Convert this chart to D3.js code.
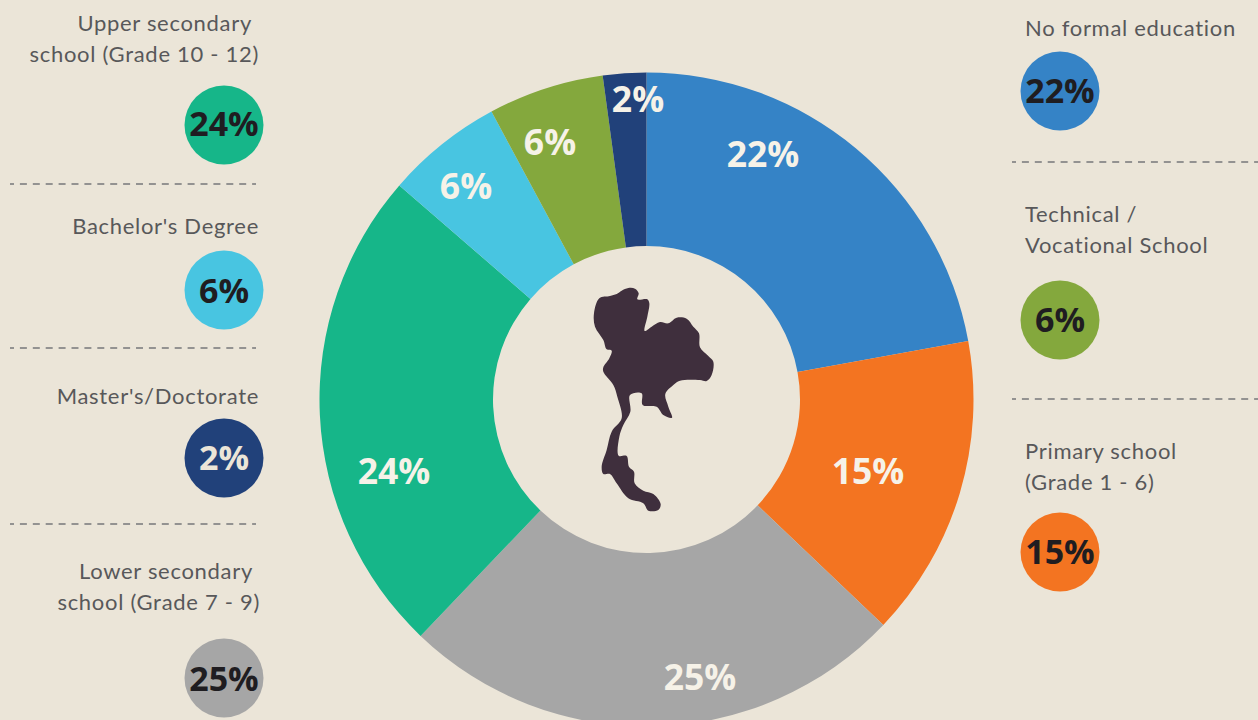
<!DOCTYPE html>
<html lang="en">
<head>
<meta charset="utf-8">
<title>Education level</title>
<script src="https://d3js.org/d3.v7.min.js"></script>
<style>
  html, body { margin: 0; padding: 0; background: #ebe5d8; overflow: hidden; }
  .cat { font: 400 22px Lato, sans-serif; fill: #58585a; letter-spacing: 0.7px; }
  .pct { font: 700 35.5px "Open Sans", sans-serif; text-anchor: middle; }
  .badge { font-size: 34px; }
  .rule { stroke: #77777a; stroke-width: 1.5; stroke-dasharray: 7 5.9; stroke-dashoffset: 3; }
</style>
</head>
<body>
<div id="chart"></div>
<script>
// slice order runs clockwise from 12 o'clock
var categories = ["none", "primary", "lower", "upper", "bachelor", "technical", "master"];
var values = [22.14, 14.97, 25.03, 24.22, 5.78, 5.72, 2.14];
var colors = ["#3583c6", "#f37421", "#a6a6a6", "#16b689", "#48c5e1", "#84a83d", "#21417a"];

var labelLines = {
  none: ["No formal education"],
  technical: ["Technical /", "Vocational School"],
  primary: ["Primary school", "(Grade 1 - 6)"],
  upper: ["Upper secondary", "school (Grade 10 - 12)"],
  bachelor: ["Bachelor's Degree"],
  master: ["Master's/Doctorate"],
  lower: ["Lower secondary", "school (Grade 7 - 9)"]
};

// layout only: where the side legend and the in-slice labels sit
var sliceLabelPos = [[763, 167], [868, 484], [700, 690], [394, 484], [466, 199], [550, 155], [638, 112]];
var legendLayout = {
  none:      { cx: 1060, cy: 91,  ty: 103, x: [1025], y: [36] },
  technical: { cx: 1060, cy: 320, ty: 332, x: [1025, 1025], y: [222, 253] },
  primary:   { cx: 1060, cy: 552, ty: 564, x: [1025, 1025], y: [459, 490] },
  upper:     { cx: 224,  cy: 125, ty: 136, x: [252, 259], y: [31, 62], end: true },
  bachelor:  { cx: 224,  cy: 290, ty: 303, x: [259], y: [234], end: true },
  master:    { cx: 224,  cy: 458, ty: 470, x: [259], y: [404], end: true },
  lower:     { cx: 224,  cy: 678, ty: 691, x: [253, 260], y: [579, 610], end: true }
};
var rules = [[10, 256, 184], [10, 256, 348], [10, 256, 524], [1012, 1258, 162], [1012, 1258, 399]];

// Thailand outline
var mapOutline = [[185,62],[205,54],[225,56],[236,70],[232,88],[262,88],[268,100],[262,140],[254,183],[275,170],[300,156],[325,160],[350,143],[380,146],[400,170],[417,190],[420,232],[445,258],[460,275],[455,315],[440,333],[420,330],[360,332],[340,345],[316,372],[325,410],[336,443],[310,435],[290,410],[248,405],[245,370],[210,375],[211,425],[190,465],[178,500],[176,557],[200,558],[207,590],[222,605],[224,640],[250,662],[280,672],[302,702],[295,720],[265,722],[250,700],[205,685],[170,640],[150,612],[130,612],[125,590],[140,540],[155,485],[185,445],[172,380],[160,345],[130,305],[130,292],[148,265],[155,242],[140,238],[130,210],[105,170],[102,130],[118,85],[150,78],[170,72]];

var width = 1258, height = 720;
var cx = 646.5, cy = 399.5, outerR = 327, innerR = 153.5;

var svg = d3.select("#chart").append("svg")
    .attr("width", width)
    .attr("height", height)
    .style("display", "block");

svg.append("rect").attr("width", width).attr("height", height).attr("fill", "#ebe5d8");

var pie = d3.pie().sort(null).value(d => d);
var arc = d3.arc().innerRadius(innerR).outerRadius(outerR);

var donut = svg.append("g").attr("transform", "translate(" + cx + "," + cy + ")");
donut.selectAll("path")
    .data(pie(values))
    .enter()
    .append("path")
    .attr("d", arc)
    .attr("fill", (d, i) => colors[i]);

svg.selectAll(".slice-label")
    .data(values)
    .enter()
    .append("text")
    .attr("class", "pct slice-label")
    .attr("x", (d, i) => sliceLabelPos[i][0])
    .attr("y", (d, i) => sliceLabelPos[i][1])
    .attr("fill", "#f6f2e8")
    .text(d => Math.round(d) + "%");

// map
svg.append("path")
    .attr("transform", "translate(560,270) scale(0.3333)")
    .attr("d", d3.line().curve(d3.curveCatmullRomClosed.alpha(0.5))(mapOutline))
    .attr("fill", "#3f2f3d");

// dashed separators
svg.selectAll(".rule")
    .data(rules)
    .enter()
    .append("line")
    .attr("class", "rule")
    .attr("x1", d => d[0])
    .attr("x2", d => d[1])
    .attr("y1", d => d[2])
    .attr("y2", d => d[2]);

// side legend
categories.forEach(function (c, i) {
    var l = legendLayout[c];
    var g = svg.append("g");
    labelLines[c].forEach(function (line, j) {
        g.append("text")
            .attr("class", "cat")
            .attr("x", l.x[j])
            .attr("y", l.y[j])
            .attr("text-anchor", l.end ? "end" : "start")
            .text(line);
    });
    g.append("circle")
        .attr("cx", l.cx)
        .attr("cy", l.cy)
        .attr("r", 39.5)
        .attr("fill", colors[i]);
    g.append("text")
        .attr("class", "pct badge")
        .attr("x", l.cx)
        .attr("y", l.ty)
        // the navy one is the only badge with a light figure
        .attr("fill", c === "master" ? "#ebe5d8" : "#1f1d21")
        .text(Math.round(values[i]) + "%");
});
</script>
</body>
</html>
